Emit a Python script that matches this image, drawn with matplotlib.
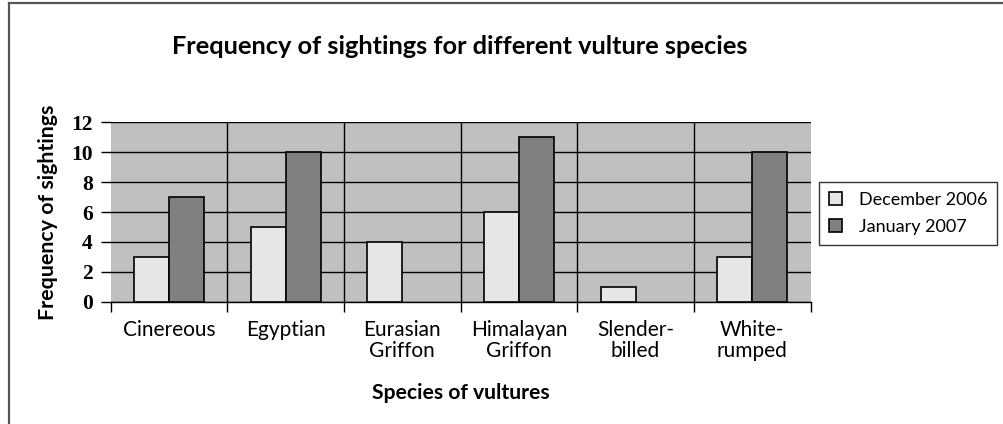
import matplotlib
matplotlib.use('Agg')
import matplotlib.pyplot as plt
from matplotlib.lines import Line2D
import numpy as np

# Chart data
species = ['Cinereous', 'Egyptian', 'Eurasian\nGriffon', 'Himalayan\nGriffon', 'Slender-\nbilled', 'White-\nrumped']
dec2006 = [3, 5, 4, 6, 1, 3]
jan2007 = [7, 10, 0, 11, 0, 10]
series_lbl = ['December 2006', 'January 2007']
yticks = [0, 2, 4, 6, 8, 10, 12]

plt.rcParams['font.family'] = ['Lato', 'DejaVu Sans']

fig = plt.figure(figsize=(10.04, 4.24), dpi=100)
ax = fig.add_axes([0.1103, 0.2884, 0.697, 0.423])
ax.set_facecolor('#c0c0c0')

x = np.arange(len(species))
w = 0.3
b1 = ax.bar(x - w/2, dec2006, w, color='#e6e6e6', edgecolor='black', linewidth=1.2, zorder=3, label=series_lbl[0])
b2 = ax.bar(x + w/2, jan2007, w, color='#808080', edgecolor='black', linewidth=1.2, zorder=3, label=series_lbl[1])
# no outline for empty bars
for bars in (b1, b2):
    for r in bars:
        if r.get_height() == 0:
            r.set_visible(False)

ax.set_xlim(-0.5, len(species) - 0.5)
ax.set_ylim(0, 12)

# horizontal grid
ax.set_yticks(yticks)
ax.set_yticklabels([str(v) for v in yticks], fontweight='bold', fontsize=15.5,
                   family=['Liberation Serif'])
ax.yaxis.grid(True, color='black', linewidth=1.0, zorder=1)

# category separators + ticks at boundaries
bounds = np.arange(-0.5, len(species), 1.0)
for bx in bounds[1:-1]:
    ax.axvline(bx, color='black', linewidth=1.0, zorder=1)
ax.set_xticks(bounds)
ax.set_xticklabels([''] * len(bounds))
ax.set_xticks(x, minor=True)
ax.set_xticklabels(species, minor=True, fontsize=15, linespacing=1.05)
ax.tick_params(axis='x', which='minor', length=0, pad=13)
ax.tick_params(axis='x', which='major', length=7, width=1.0, direction='out')
ax.tick_params(axis='y', length=7, width=1.0, direction='out', pad=6)

for s in ['top', 'right', 'left']:
    ax.spines[s].set_visible(False)
ax.spines['bottom'].set_linewidth(1.0)
ax.set_axisbelow(True)

fig.text(460/1004, 1 - 47/424, 'Frequency of sightings for different vulture species',
         fontsize=18.3, fontweight='bold', ha='center', va='center')
ax.set_ylabel('Frequency of sightings', fontsize=15.4, fontweight='bold', va='center')
ax.yaxis.set_label_coords((47.5 - 110.7) / 700, 0.5)
ax.set_xlabel('Species of vultures', fontsize=15.2, fontweight='bold', va='center')
ax.xaxis.set_label_coords(0.5, (301.7 - 393) / 179.4)

leg = fig.legend(handles=[b1, b2], labels=series_lbl, loc='upper left',
                 bbox_to_anchor=(819/1004, 1 - 182/424),
                 fontsize=13, frameon=True, fancybox=False,
                 edgecolor='black', handlelength=0.75, handleheight=0.75,
                 handletextpad=0.9, borderpad=0.55, labelspacing=0.6,
                 borderaxespad=0)
leg.get_frame().set_linewidth(1.0)

# partial frame around the figure (top and left only)
fig.add_artist(Line2D([9/1004, 1], [1 - 3/424, 1 - 3/424], color='#555555', linewidth=1.6, transform=fig.transFigure))
fig.add_artist(Line2D([9/1004, 9/1004], [0, 1 - 3/424], color='#555555', linewidth=1.6, transform=fig.transFigure))

fig.savefig('out.png', dpi=100)
